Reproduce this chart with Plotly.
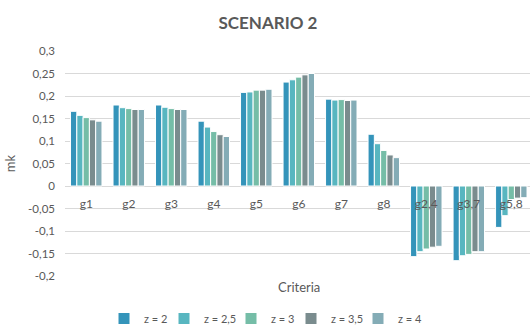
import plotly.graph_objects as go

# Criteria on the category axis
criteria = ["g1", "g2", "g3", "g4", "g5", "g6", "g7", "g8", "g2,4", "g3,7", "g5,8"]

# mk values per criterion for each z setting
mk_z2 = [0.166, 0.180, 0.180, 0.144, 0.208, 0.231, 0.193, 0.115, -0.157, -0.166, -0.092]
mk_z25 = [0.157, 0.174, 0.175, 0.131, 0.209, 0.236, 0.191, 0.094, -0.146, -0.155, -0.066]
mk_z3 = [0.152, 0.172, 0.172, 0.121, 0.213, 0.242, 0.192, 0.079, -0.140, -0.152, -0.030]
mk_z35 = [0.147, 0.170, 0.170, 0.114, 0.213, 0.247, 0.190, 0.069, -0.136, -0.146, -0.027]
mk_z4 = [0.144, 0.170, 0.170, 0.110, 0.215, 0.250, 0.191, 0.063, -0.134, -0.146, -0.026]

series_names = ["z = 2", "z = 2,5", "z = 3", "z = 3,5", "z = 4"]
series_values = [mk_z2, mk_z25, mk_z3, mk_z35, mk_z4]
series_colors = ["#3494BA", "#58B6C0", "#75BDA7", "#7A8C8E", "#84ACB6"]

# y-axis ticks with comma decimals
y_tickvals = [0.3, 0.25, 0.2, 0.15, 0.1, 0.05, 0, -0.05, -0.1, -0.15, -0.2]
y_ticktext = ["0,3", "0,25", "0,2", "0,15", "0,1", "0,05", "0", "-0,05", "-0,1", "-0,15", "-0,2"]

FONT = "Lato, 'Open Sans', sans-serif"
TEXT = "#595959"
GRID = "#D9D9D9"

PLOT_L, PLOT_W = 65, 465
PLOT_B, PLOT_H = 282, 231

# one compact legend per series, laid out in a row under the chart
legend_left_px = [104, 164, 231, 291, 358]
legend_names = ["legend", "legend2", "legend3", "legend4", "legend5"]

fig = go.Figure()
for name, vals, col, lg in zip(series_names, series_values, series_colors, legend_names):
    fig.add_trace(go.Bar(
        x=criteria, y=vals, name=name, legend=lg,
        marker=dict(color=col, line=dict(color="white", width=1)),
    ))

y_min, y_max = -0.2, 0.3
zero_pos = (0 - y_min) / (y_max - y_min)

legend_style = dict(
    orientation="h", xanchor="left", yanchor="middle",
    y=(PLOT_B - 326) / PLOT_H, itemwidth=30,
    bgcolor="rgba(0,0,0,0)", borderwidth=0,
    font=dict(family=FONT, size=11, color=TEXT),
)
legend_layout = {
    lg: dict(legend_style, x=(px - PLOT_L) / PLOT_W)
    for lg, px in zip(legend_names, legend_left_px)
}

fig.update_layout(
    width=530, height=333,
    margin=dict(l=PLOT_L, r=0, t=51, b=333 - PLOT_B),
    paper_bgcolor="white", plot_bgcolor="white",
    showlegend=True,
    barmode="group", bargap=0.26, bargroupgap=0,
    font=dict(family=FONT, size=11, color=TEXT),
    title=dict(text="<b>SCENARIO 2</b>", x=268 / 530, xanchor="center",
               y=1 - 23 / 333, yanchor="middle",
               font=dict(family=FONT, size=17, color=TEXT)),
    xaxis=dict(
        type="category", range=[-0.5, 10.44],
        anchor="free", position=zero_pos,
        showline=False, showgrid=False, ticks="", ticklabelstandoff=9,
        tickfont=dict(family=FONT, size=12, color=TEXT),
    ),
    yaxis=dict(
        range=[y_min, y_max], tickvals=y_tickvals, ticktext=y_ticktext,
        showgrid=True, gridcolor=GRID, gridwidth=1,
        zeroline=True, zerolinecolor=GRID, zerolinewidth=1,
        showline=False, ticks="", ticklabelstandoff=9,
        tickfont=dict(family=FONT, size=11.5, color=TEXT),
        title=dict(text="mk", standoff=9, font=dict(family=FONT, size=13, color=TEXT)),
    ),
    **legend_layout,
)

fig.add_annotation(
    text="Criteria", xref="paper", yref="paper",
    x=(299 - PLOT_L) / PLOT_W, y=(PLOT_B - 293) / PLOT_H,
    xanchor="center", yanchor="middle", showarrow=False,
    font=dict(family=FONT, size=13, color=TEXT),
)

fig.write_html("out.html")
